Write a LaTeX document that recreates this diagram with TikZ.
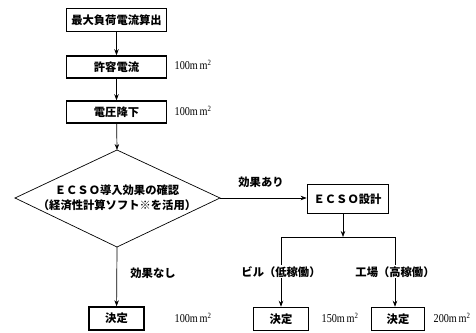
\documentclass[tikz,border=0pt]{standalone}
\usepackage{fontspec}
\setmainfont{Noto Sans CJK JP}
\newfontfamily\numfont{Liberation Serif}
\usetikzlibrary{arrows.meta}
\tikzset{
  jpfont/.style={font=\bfseries\fontsize{11.3}{14}\selectfont},
  thickbox/.style={draw, line width=1.5pt, minimum height=23pt, inner sep=0pt, jpfont},
  thinbox/.style={draw, line width=0.8pt, minimum height=29pt, inner sep=0pt, jpfont},
  lbl/.style={jpfont, inner sep=1pt},
  mm/.style={font=\numfont\fontsize{12}{14}\selectfont, inner sep=0pt},
  conn/.style={line width=0.7pt, -{Stealth[length=6pt,width=4.5pt]}},
  plain/.style={line width=0.7pt},
}
\newcommand{\mmsq}[1]{\scalebox{0.85}[1]{#1m\,m\textsuperscript{2}}}
\begin{document}
\begin{tikzpicture}[x=1pt,y=-1pt]
\useasboundingbox (0,0) rectangle (476,332);
% main column
\node[thickbox, minimum width=100pt] (b1) at (116.5,20) {最大負荷電流算出};
\node[thickbox, minimum width=100pt, minimum height=22pt] (b2) at (116.5,67) {許容電流};
\node[thickbox, minimum width=100pt, minimum height=22pt] (b3) at (116.5,112) {電圧降下};
\node[mm] (m2) at (193,65) {\mmsq{100}};
\node[mm] (m3) at (193,111) {\mmsq{100}};
% diamond
\coordinate (dt) at (117,150);
\coordinate (db) at (117,247);
\coordinate (dl) at (15,198);
\coordinate (dr) at (220,198);
\draw[line width=0.7pt] (dt) -- (dr) -- (db) -- (dl) -- cycle;
\node[lbl, align=center] (dtext) at (117,198) {ＥＣＳＯ導入効果の確認\\[1pt]（経済性計算ソフト※を活用）};
% decision left
\node[thickbox, minimum width=55pt] (d1) at (116.5,318.5) {決定};
\node[mm] (m1) at (193,318) {\mmsq{100}};
\node[lbl] (nashi) at (153,273) {効果なし};
% ECSO design
\node[thinbox, minimum width=81pt] (ecso) at (347.5,199) {ＥＣＳＯ設計};
\node[lbl] (ari) at (261,182) {効果あり};
% branches
\coordinate (j) at (343,237);
\coordinate (jl) at (281,237);
\coordinate (jr) at (395,237);
\node[thickbox, minimum width=55pt] (d2) at (281,319) {決定};
\node[thickbox, minimum width=53pt] (d3) at (398,319) {決定};
\node[mm] (m4) at (340,318) {\mmsq{150}};
\node[mm] (m5) at (452,318) {\mmsq{200}};
% connectors
\draw[conn] (b1) -- (b2);
\draw[conn] (b2) -- (b3);
\draw[conn] (b3) -- (dt);
\draw[conn] (db) -- (d1);
\draw[conn] (dr) -- (ecso.west |- dr);
\draw[conn] (ecso.south -| j) -- (j);
\draw[plain] (jl) -- (jr);
\draw[conn] (jl) -- (d2.north -| jl) node[lbl, pos=0.5, fill=white] (biru) {ビル（低稼働）};
\draw[conn] (jr) -- (d3.north -| jr) node[lbl, pos=0.5, fill=white] (kojo) {工場（高稼働）};
\end{tikzpicture}
\end{document}
